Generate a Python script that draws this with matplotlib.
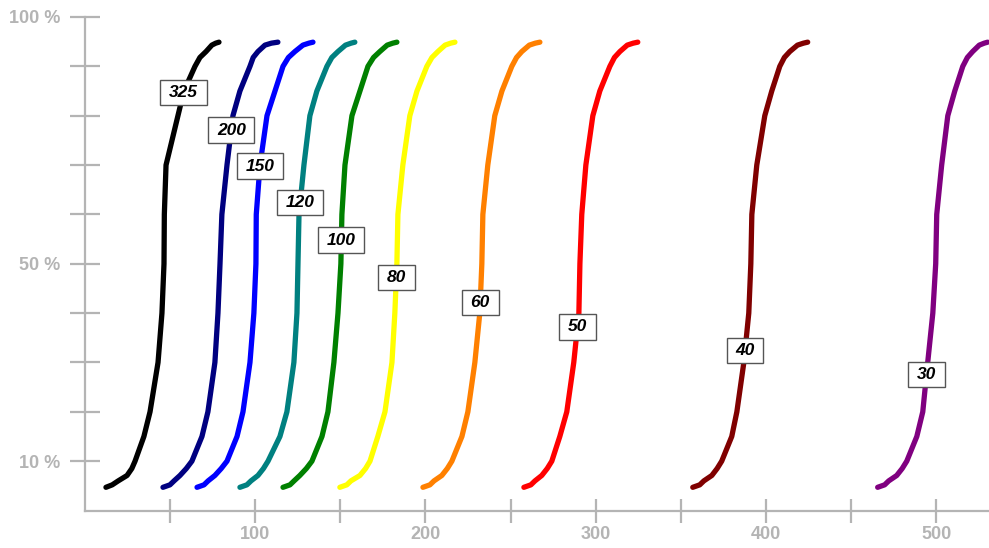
import numpy as np
import matplotlib
matplotlib.use("Agg")
import matplotlib.pyplot as plt
from matplotlib.path import Path

plt.rcParams['font.family'] = ['Liberation Sans', 'DejaVu Sans']

# cumulative percent levels shared by all curves
pct = [4.7, 5.2, 6.0, 7.1, 8.5, 10, 15, 20, 30, 40, 50, 60, 70, 80, 85, 90, 91.8, 93, 94.3, 94.7, 94.9]

# x value of each curve at the levels above
mesh_names = ['325', '200', '150', '120', '100', '80', '60', '50', '40', '30']
x_325 = [12.3, 16.0, 19.5, 24.7, 27.5, 29.4, 34.6, 38.2, 42.9, 45.2, 46.4, 46.6, 47.6, 54.6, 58.1, 64.6, 67.5, 71.1, 74.5, 76.8, 78.7]
x_200 = [45.8, 49.9, 52.3, 55.8, 59.5, 62.8, 68.7, 72.2, 76.3, 78.1, 79.3, 80.4, 83.4, 86.9, 91.0, 96.9, 98.8, 101.6, 105.7, 109.5, 113.3]
x_150 = [65.8, 69.9, 72.3, 76.3, 80.0, 83.4, 89.3, 92.8, 96.9, 99.2, 100.4, 100.6, 102.8, 106.9, 111.6, 116.3, 119.5, 123.3, 128.0, 131.5, 133.9]
x_120 = [91.0, 95.1, 97.5, 101.6, 104.8, 107.5, 114.5, 118.6, 122.7, 124.5, 125.1, 125.7, 128.6, 132.1, 136.2, 142.1, 145.0, 148.6, 153.0, 156.3, 158.5]
x_100 = [116.3, 120.4, 122.8, 126.2, 130.0, 133.3, 139.2, 142.7, 146.2, 148.6, 150.3, 150.9, 152.7, 156.8, 161.5, 166.2, 169.5, 173.2, 177.5, 180.8, 183.2]
x_80 = [149.7, 153.8, 156.2, 161.5, 164.8, 167.4, 172.0, 176.2, 180.3, 182.0, 183.2, 183.8, 186.7, 190.8, 195.0, 200.8, 203.8, 207.3, 211.5, 214.8, 217.3]
x_60 = [198.5, 202.6, 205.0, 209.6, 212.8, 215.5, 221.4, 224.9, 229.0, 231.9, 233.1, 233.7, 236.6, 240.7, 244.9, 250.7, 253.5, 256.6, 261.0, 264.5, 267.2]
x_50 = [257.8, 261.9, 264.3, 268.3, 271.5, 274.2, 278.9, 283.0, 287.1, 290.1, 290.7, 291.8, 294.2, 298.3, 302.4, 308.3, 311.0, 314.2, 318.5, 322.0, 324.7]
x_40 = [357.0, 361.1, 363.5, 368.2, 371.3, 374.0, 379.9, 382.9, 387.0, 389.9, 391.1, 391.7, 394.6, 399.3, 403.4, 408.1, 410.8, 414.0, 418.5, 422.0, 424.5]
x_30 = [465.6, 469.7, 472.1, 476.8, 480.0, 482.7, 488.6, 492.1, 495.0, 498.0, 499.7, 500.3, 503.2, 506.8, 510.9, 515.6, 518.3, 521.4, 525.3, 528.2, 530.2]
curves = [x_325, x_200, x_150, x_120, x_100, x_80, x_60, x_50, x_40, x_30]

# percent level where each label box sits on its curve
label_pct = [84.7, 77.1, 69.8, 62.4, 54.8, 47.2, 42.1, 37.2, 32.4, 27.5]

colors = ['#000000', '#000080', '#0000ff', '#008080', '#008000',
          '#ffff00', '#ff8000', '#ff0000', '#800000', '#800080']

grey = '#b4b4b4'


def wide_box(x0, y0, width, height, mutation_size):
    # label box: wider side padding than top/bottom
    px = 0.5 * mutation_size
    py = 0.3 * mutation_size
    x1, y1 = x0 - px, y0 - py
    x2, y2 = x0 + width + px, y0 + height + py
    return Path([(x1, y1), (x2, y1), (x2, y2), (x1, y2), (x1, y1)], closed=True)


fig = plt.figure(figsize=(9.89, 5.48), dpi=100)
ax = fig.add_axes([85 / 989, 1 - 510.5 / 548, 1 - 85 / 989, (510.5 - 17) / 548])

for name, xs, c, lp in zip(mesh_names, curves, colors, label_pct):
    ax.plot(xs, pct, color=c, lw=3.8, solid_capstyle='round', solid_joinstyle='round')
    lx = np.interp(lp, pct, xs)
    ax.text(lx, lp, name, ha='center', va='center', fontsize=12.5,
            fontweight='bold', fontstyle='italic', color='black', zorder=5,
            bbox=dict(boxstyle=wide_box, fc='white', ec='#555555', lw=1.0))

ax.set_xlim(0, 531)
ax.set_ylim(0, 100)

for side in ['top', 'right']:
    ax.spines[side].set_visible(False)
for side in ['left', 'bottom']:
    ax.spines[side].set_color(grey)
    ax.spines[side].set_linewidth(1.6)

ax.set_xticks(np.arange(50, 501, 50))
ax.set_xticklabels([str(v) if v % 100 == 0 else '' for v in range(50, 501, 50)])
ax.set_yticks(np.arange(10, 101, 10))
ax.set_yticklabels([f'{v} %' if v in (10, 50, 100) else '' for v in range(10, 101, 10)])

ax.tick_params(axis='x', direction='inout', length=17, width=1.6, color=grey,
               labelcolor=grey, labelsize=13, pad=3)
ax.tick_params(axis='y', direction='inout', length=21, width=1.6, color=grey,
               labelcolor=grey, labelsize=13, pad=7)
for lab in ax.get_xticklabels() + ax.get_yticklabels():
    lab.set_fontweight('bold')

fig.savefig('out.png', dpi=100)
